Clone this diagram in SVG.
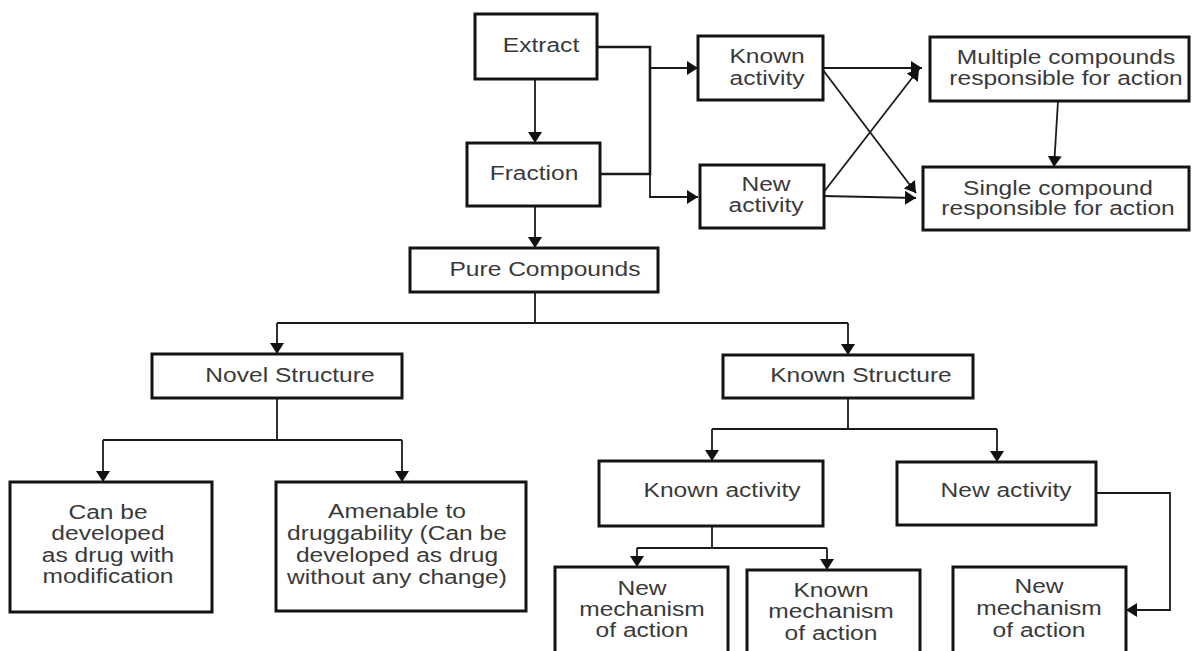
<svg xmlns="http://www.w3.org/2000/svg" width="1195" height="651" viewBox="0 0 1195 651">
<defs>
<marker id="ah" markerUnits="userSpaceOnUse" markerWidth="12" markerHeight="14" refX="11" refY="7" orient="auto">
<path d="M0,0 L11,7 L0,14 z" fill="#111"/>
</marker>
<style>
.box{fill:#fff;stroke:#141414;stroke-width:3}
.ln{fill:none;stroke:#1a1a1a;stroke-width:1.8}
.thick{fill:none;stroke:#1a1a1a;stroke-width:2.6}
.arr{marker-end:url(#ah)}
text{font-family:"Liberation Sans",Arial,sans-serif;font-size:21px;fill:#3a3a3a;text-anchor:middle}
</style>
</defs>
<rect width="1195" height="651" fill="#fff"/>
<g id="connectors">
<path class="ln arr" d="M535,79 V143"/>
<path class="thick" d="M597,47 H650 V174 H600"/>
<path class="ln arr" d="M650,174 V197 H698"/>
<path class="ln arr" d="M650,68 H698"/>
<path class="ln arr" d="M823,68 H922"/>
<path class="ln arr" d="M823,70 L916,193"/>
<path class="ln arr" d="M823,193 L919,69"/>
<path class="ln arr" d="M823,196 L916,198"/>
<path class="ln arr" d="M1058,101 L1054,167"/>
<path class="ln arr" d="M535,206 V248"/>
<path class="ln" d="M535,292 V323"/>
<path class="ln" d="M277,323 H848"/>
<path class="ln arr" d="M277,323 V354"/>
<path class="ln arr" d="M848,323 V355"/>
<path class="ln" d="M277,398 V440"/>
<path class="ln" d="M103,440 H402"/>
<path class="ln arr" d="M103,440 V482"/>
<path class="ln arr" d="M402,440 V482"/>
<path class="ln" d="M848,398 V429"/>
<path class="ln" d="M712,429 H997"/>
<path class="ln arr" d="M712,429 V461"/>
<path class="ln arr" d="M997,429 V462"/>
<path class="ln" d="M712,526 V548"/>
<path class="ln" d="M637,548 H827"/>
<path class="ln arr" d="M637,548 V567"/>
<path class="ln arr" d="M827,548 V570"/>
<path class="ln arr" d="M1096,493 H1170 V610 H1126"/>
</g>
<g id="extract">
<rect class="box" x="475" y="14" width="122" height="65"/>
<text transform="translate(541 0) scale(1.17 1)" x="0" y="52">Extract</text>
</g>
<g id="fraction">
<rect class="box" x="467" y="143" width="133" height="63"/>
<text transform="translate(534 0) scale(1.17 1)" x="0" y="180">Fraction</text>
</g>
<g id="known-activity-top">
<rect class="box" x="698" y="36" width="125" height="64"/>
<text transform="translate(767 0) scale(1.17 1)"><tspan x="0" y="63">Known</tspan><tspan x="0" y="85">activity</tspan></text>
</g>
<g id="new-activity-top">
<rect class="box" x="700" y="165" width="124" height="63"/>
<text transform="translate(766 0) scale(1.17 1)"><tspan x="0" y="191">New</tspan><tspan x="0" y="212">activity</tspan></text>
</g>
<g id="multiple">
<rect class="box" x="930" y="37" width="259" height="64"/>
<text transform="translate(1066 0) scale(1.17 1)"><tspan x="0" y="64">Multiple compounds</tspan><tspan x="0" y="85">responsible for action</tspan></text>
</g>
<g id="single">
<rect class="box" x="923" y="167" width="266" height="63"/>
<text transform="translate(1058 0) scale(1.17 1)"><tspan x="0" y="195">Single compound</tspan><tspan x="0" y="215">responsible for action</tspan></text>
</g>
<g id="pure">
<rect class="box" x="410" y="248" width="248" height="44"/>
<text transform="translate(545 0) scale(1.17 1)" x="0" y="276">Pure Compounds</text>
</g>
<g id="novel">
<rect class="box" x="152" y="354" width="250" height="44"/>
<text transform="translate(290 0) scale(1.17 1)" x="0" y="382">Novel Structure</text>
</g>
<g id="known-structure">
<rect class="box" x="723" y="355" width="250" height="43"/>
<text transform="translate(861 0) scale(1.17 1)" x="0" y="382">Known Structure</text>
</g>
<g id="can-be">
<rect class="box" x="10" y="482" width="202" height="130"/>
<text transform="translate(108 0) scale(1.17 1)"><tspan x="0" y="519">Can be</tspan><tspan x="0" y="540">developed</tspan><tspan x="0" y="562">as drug with</tspan><tspan x="0" y="583">modification</tspan></text>
</g>
<g id="amenable">
<rect class="box" x="276" y="482" width="250" height="129"/>
<text transform="translate(397 0) scale(1.17 1)"><tspan x="0" y="518">Amenable to</tspan><tspan x="0" y="540">druggability (Can be</tspan><tspan x="0" y="562">developed as drug</tspan><tspan x="0" y="584">without any change)</tspan></text>
</g>
<g id="known-activity-bottom">
<rect class="box" x="599" y="461" width="224" height="65"/>
<text transform="translate(722 0) scale(1.17 1)" x="0" y="497">Known activity</text>
</g>
<g id="new-activity-bottom">
<rect class="box" x="897" y="462" width="199" height="63"/>
<text transform="translate(1006 0) scale(1.17 1)" x="0" y="497">New activity</text>
</g>
<g id="new-mechanism-1">
<rect class="box" x="555" y="567" width="173" height="100"/>
<text transform="translate(642 0) scale(1.17 1)"><tspan x="0" y="595">New</tspan><tspan x="0" y="616">mechanism</tspan><tspan x="0" y="637">of action</tspan></text>
</g>
<g id="known-mechanism">
<rect class="box" x="747" y="570" width="173" height="100"/>
<text transform="translate(831 0) scale(1.17 1)"><tspan x="0" y="597">Known</tspan><tspan x="0" y="618">mechanism</tspan><tspan x="0" y="640">of action</tspan></text>
</g>
<g id="new-mechanism-2">
<rect class="box" x="953" y="567" width="173" height="100"/>
<text transform="translate(1039 0) scale(1.17 1)"><tspan x="0" y="593">New</tspan><tspan x="0" y="615">mechanism</tspan><tspan x="0" y="637">of action</tspan></text>
</g>
</svg>
